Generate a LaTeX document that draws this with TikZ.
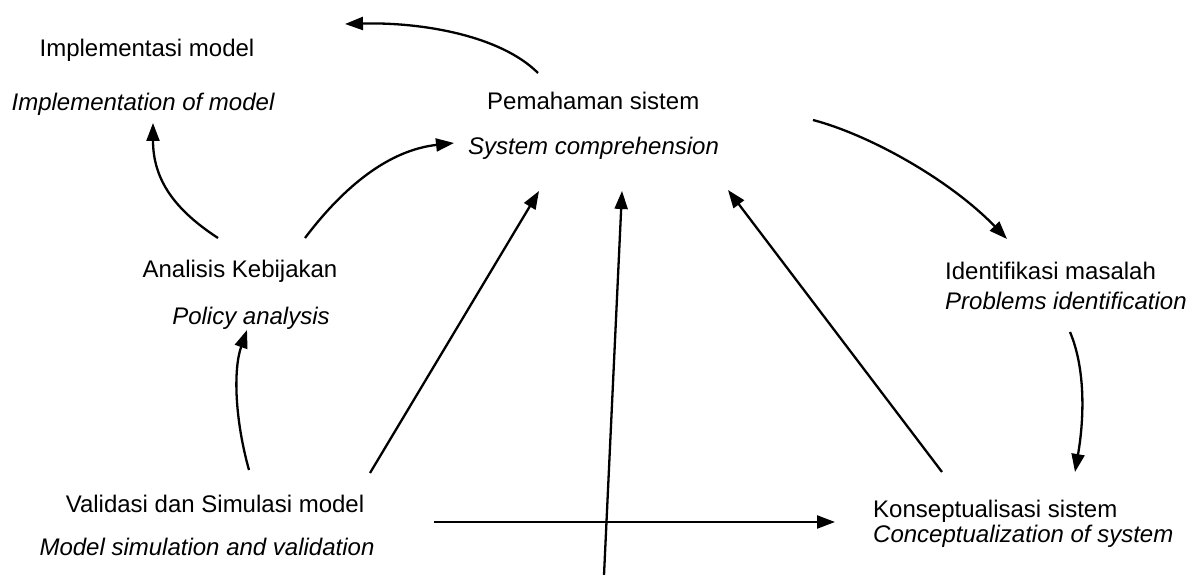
\documentclass[tikz,border=0pt]{standalone}
\usepackage{fontspec}
\setmainfont{Liberation Sans}
\usetikzlibrary{arrows.meta}
\begin{document}
\begin{tikzpicture}[x=1pt,y=-1pt,
  lbl/.style={inner sep=0pt,anchor=base,font=\fontsize{24}{28}\selectfont},
  lblw/.style={lbl,anchor=base west},
  ilbl/.style={lbl,font=\fontsize{24}{28}\selectfont\itshape},
  ilblw/.style={ilbl,anchor=base west},
  conn/.style={line width=2.3pt,-{Triangle[length=18pt,width=13pt]}}]
\useasboundingbox (0,0) rectangle (1186,575);
\fill[white] (0,0) rectangle (1186,575);

% labels
\node[lbl]   (impl)   at (147,57)  {Implementasi model};
\node[ilbl]  (implE)  at (143,111) {Implementation of model};
\node[lblw]  (pem)    at (487,110) {Pemahaman sistem};
\node[ilblw] (pemE)   at (468,155) {System comprehension};
\node[lbl]   (ana)    at (240,277) {Analisis Kebijakan};
\node[ilbl]  (anaE)   at (251,324) {Policy analysis};
\node[lblw]  (idn)    at (945,279) {Identifikasi masalah};
\node[ilblw] (idnE)   at (945,309) {Problems identification};
\node[lbl]   (val)    at (215,512) {Validasi dan Simulasi model};
\node[ilbl]  (valE)   at (207,555) {Model simulation and validation};
\node[lblw]  (kon)    at (873,517) {Konseptualisasi sistem};
\node[ilblw] (konE)   at (873,542) {Conceptualization of system};

% connector end points
\coordinate (a1s) at (538,73);   \coordinate (a1e) at (345,24);
\coordinate (a2s) at (218,238);  \coordinate (a2e) at (153,123);
\coordinate (a3s) at (305,238);  \coordinate (a3e) at (454,143);
\coordinate (a4s) at (249,470);  \coordinate (a4e) at (247,330);
\coordinate (a5s) at (370,473);  \coordinate (a5e) at (539,191);
\coordinate (a6s) at (604,575);  \coordinate (a6e) at (622,191);
\coordinate (a7s) at (434,522);  \coordinate (a7e) at (835,522);
\coordinate (a8s) at (942,472);  \coordinate (a8e) at (728,190);
\coordinate (a9s) at (813,120);  \coordinate (a9e) at (1007,239);
\coordinate (a10s) at (1070,332); \coordinate (a10e) at (1075,472);

% connectors
\draw[conn] (a1s) .. controls (500,35) and (420,22) .. (a1e);
\draw[conn] (a2s) .. controls (175,210) and (153,180) .. (a2e);
\draw[conn] (a3s) .. controls (345,185) and (390,150) .. (a3e);
\draw[conn] (a4s) .. controls (235,420) and (233,370) .. (a4e);
\draw[conn] (a5s) -- (a5e);
\draw[conn] (a6s) -- (a6e);
\draw[conn] (a7s) -- (a7e);
\draw[conn] (a8s) -- (a8e);
\draw[conn] (a9s) .. controls (870,135) and (950,180) .. (a9e);
\draw[conn] (a10s) .. controls (1086,370) and (1084,420) .. (a10e);
\end{tikzpicture}
\end{document}
